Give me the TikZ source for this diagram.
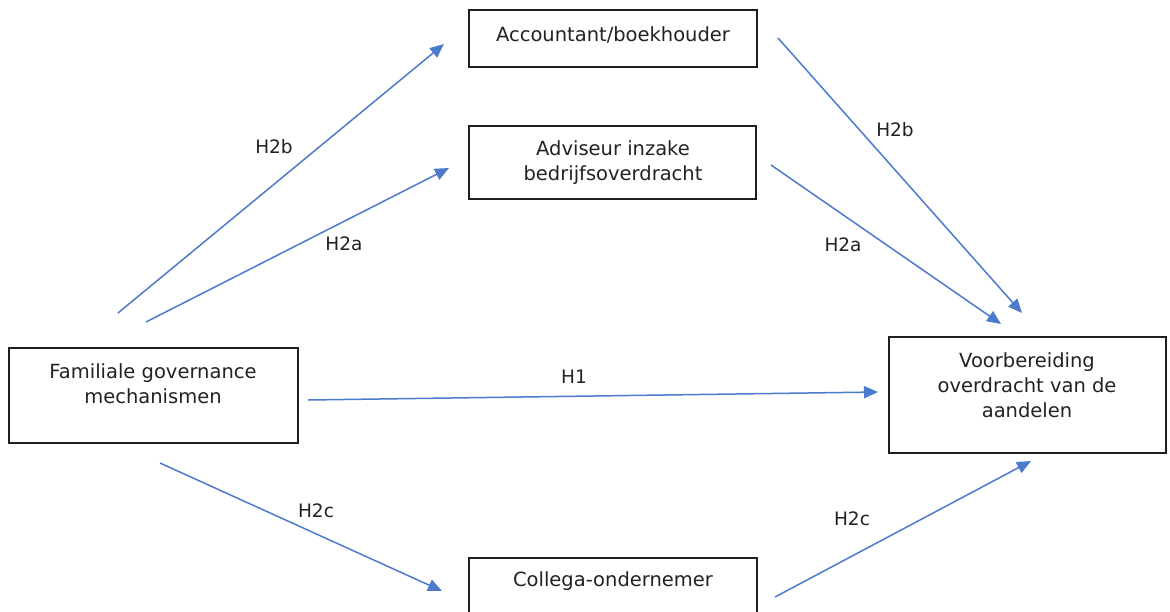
\documentclass[tikz,border=0pt]{standalone}
\usepackage{fontspec}
\setmainfont{DejaVu Sans}
\usetikzlibrary{arrows.meta}
\definecolor{arrowblue}{RGB}{76,122,204}
\definecolor{boxline}{RGB}{30,30,30}
\definecolor{txt}{RGB}{34,34,34}
\begin{document}
\begin{tikzpicture}[x=1pt,y=-1pt,
  box/.style={draw=boxline,line width=1.8pt},
  boxtext/.style={align=center,inner sep=0pt,text=txt,font=\fontsize{19.5}{25}\selectfont},
  lbl/.style={inner sep=0pt,text=txt,font=\fontsize{18.5}{22}\selectfont},
  link/.style={draw=arrowblue,line width=1.5pt,-{Triangle[length=14pt,width=12pt]}}]
\useasboundingbox (0,0) rectangle (1170,611);
\fill[white] (0,0) rectangle (1170,611);
% boxes
\draw[box] (469,10) rectangle (757,67);
\node[boxtext] (acc) at (613,35) {Accountant/boekhouder};
\draw[box] (469,126) rectangle (756,199);
\node[boxtext] (adv) at (613,163) {Adviseur inzake\\bedrijfsoverdracht};
\draw[box] (9,348) rectangle (298,443);
\node[boxtext] (fam) at (153,383.5) {Familiale governance\\mechanismen};
\draw[box] (889,337) rectangle (1166,453);
\node[boxtext] (voo) at (1027,385.5) {Voorbereiding\\overdracht van de\\aandelen};
\draw[box] (469,558) rectangle (757,640);
\node[boxtext] (col) at (613,581) {Collega-ondernemer};
% arrow end points
\coordinate (a1s) at (118,313); \coordinate (a1e) at (444,44);
\coordinate (a2s) at (146,322); \coordinate (a2e) at (449,168);
\coordinate (a3s) at (308,400); \coordinate (a3e) at (878,392);
\coordinate (a4s) at (160,463); \coordinate (a4e) at (442,591);
\coordinate (a5s) at (778,38);  \coordinate (a5e) at (1022,313);
\coordinate (a6s) at (771,165); \coordinate (a6e) at (1001,324);
\coordinate (a7s) at (775,597); \coordinate (a7e) at (1031,461);
\draw[link] (a1s) -- (a1e);
\draw[link] (a2s) -- (a2e);
\draw[link] (a3s) -- (a3e);
\draw[link] (a4s) -- (a4e);
\draw[link] (a5s) -- (a5e);
\draw[link] (a6s) -- (a6e);
\draw[link] (a7s) -- (a7e);
% labels
\node[lbl] (l1) at (274,147) {H2b};
\node[lbl] (l2) at (344,244) {H2a};
\node[lbl] (l3) at (574,377) {H1};
\node[lbl] (l4) at (316,511) {H2c};
\node[lbl] (l5) at (895,130) {H2b};
\node[lbl] (l6) at (843,245) {H2a};
\node[lbl] (l7) at (852,519) {H2c};
\end{tikzpicture}
\end{document}
